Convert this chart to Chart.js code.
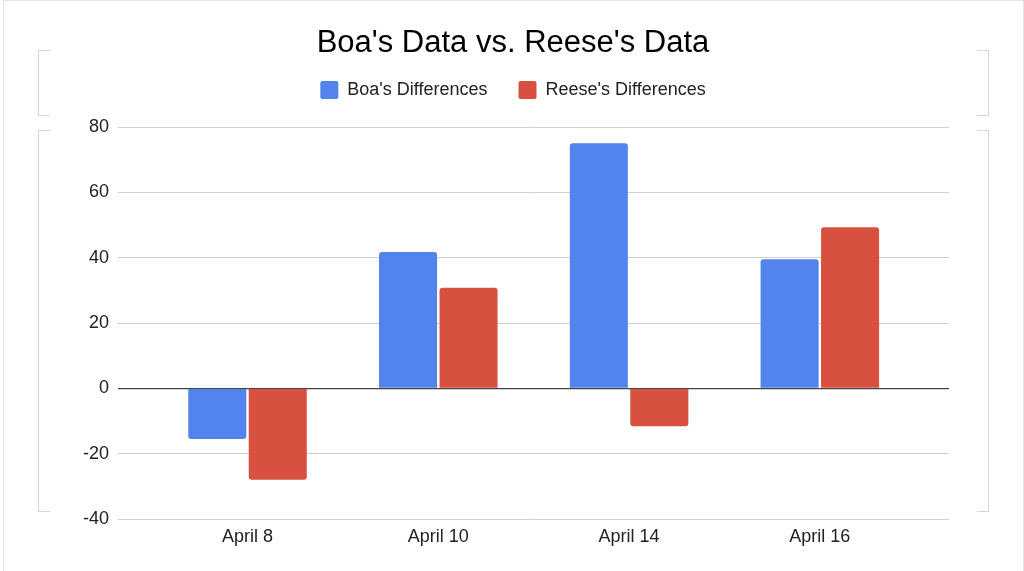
<!DOCTYPE html>
<html>
<head>
<meta charset="utf-8">
<title>Boa's Data vs. Reese's Data</title>
<script src="https://cdn.jsdelivr.net/npm/chart.js"></script>
<style>
  html, body { margin: 0; padding: 0; background: #fff; }
  #wrap { position: relative; width: 1024px; height: 571px; overflow: hidden; }
  #frame { position: absolute; left: 3px; top: 0; width: 1019px; height: 600px;
           border: 1px solid #e4e4e4; border-bottom: none; }
  .br { position: absolute; width: 11px; border: 1.5px solid #d6d6d6; }
  .br.l { border-right: none; }
  .br.r { border-left: none; }
  canvas { position: absolute; left: 0; top: 0; }
</style>
</head>
<body>
<div id="wrap">
  <div id="frame"></div>
  <!-- selection brackets around the chart boxes -->
  <div class="br l" style="left:38px;top:50px;height:64px"></div>
  <div class="br l" style="left:38px;top:130px;height:380px"></div>
  <div class="br r" style="left:977px;top:50px;height:64px"></div>
  <div class="br r" style="left:977px;top:130px;height:380px"></div>
  <canvas id="myChart" width="1024" height="571"></canvas>
</div>
<script>
// datos
const categories = ['April 8', 'April 10', 'April 14', 'April 16'];
const boaDiffs = [-15.5, 41.7, 75, 39.5];
const reeseDiffs = [-28, 30.8, -11.6, 49.3];
const yTicks = [-40, -20, 0, 20, 40, 60, 80];

const FONT = "'Liberation Sans', Arial, Helvetica, sans-serif";

// push the plot area down below the legend
const legendGap = {
  id: 'legendGap',
  beforeLayout(chart) {
    const lg = chart.legend;
    if (!lg || lg._gapDone) return;
    const fit = lg.fit;
    lg.fit = function () { fit.call(this); this.height += 18; };
    lg._gapDone = true;
  }
};

const ctx = document.getElementById('myChart').getContext('2d');
new Chart(ctx, {
  type: 'bar',
  data: {
    datasets: [{
      label: "Boa's Differences",
      data: boaDiffs.map((v, i) => ({ x: i, y: v })),
      backgroundColor: '#5383EC',
      borderWidth: 0,
      borderRadius: 3
    }, {
      label: "Reese's Differences",
      data: reeseDiffs.map((v, i) => ({ x: i, y: v })),
      backgroundColor: '#D85140',
      borderWidth: 0,
      borderRadius: 3
    }]
  },
  options: {
    responsive: false,
    animation: false,
    events: [],
    layout: { padding: { left: 77, right: 75, top: 0, bottom: 0 } },
    datasets: { bar: { categoryPercentage: 0.634, barPercentage: 0.96 } },
    plugins: {
      title: {
        display: true,
        text: "Boa's Data vs. Reese's Data",
        color: '#000',
        font: { family: FONT, size: 31, weight: 'normal', lineHeight: 1 },
        padding: { top: 28, bottom: -9 }
      },
      legend: {
        display: true,
        labels: {
          color: '#222',
          font: { family: FONT, size: 18 },
          boxWidth: 18,
          boxHeight: 18,
          padding: 31,
          useBorderRadius: true,
          borderRadius: 2
        }
      },
      tooltip: { enabled: false }
    },
    scales: {
      x: {
        type: 'linear',
        offset: false,
        min: -0.679,
        max: 3.677,
        grid: { display: false, drawTicks: false },
        border: { display: false },
        afterBuildTicks: s => { s.ticks = categories.map((_, i) => ({ value: i })); },
        afterFit: s => { s.height = 52; },
        ticks: {
          color: '#222',
          padding: 7,
          font: { family: FONT, size: 18 },
          callback: v => categories[v]
        }
      },
      y: {
        min: -40,
        max: 80,
        afterBuildTicks: s => { s.ticks = yTicks.map(v => ({ value: v })); },
        afterFit: s => { s.width = 41; },
        border: { display: false },
        grid: {
          drawTicks: false,
          color: c => (c.tick && c.tick.value === 0 ? '#444' : '#d0d0d0'),
          lineWidth: c => (c.tick && c.tick.value === 0 ? 1.3 : 1)
        },
        ticks: {
          color: '#222',
          padding: 9,
          font: { family: FONT, size: 18 }
        }
      }
    }
  },
  plugins: [legendGap]
});
</script>
</body>
</html>
